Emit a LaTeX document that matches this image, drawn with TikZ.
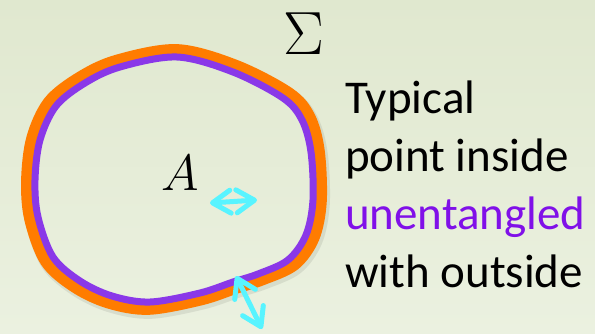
\documentclass[tikz,border=0pt]{standalone}
\usepackage{fix-cm}
\usepackage{fontspec}
\setmainfont{Carlito}
\usetikzlibrary{arrows.meta}
\definecolor{bgtop}{RGB}{224,232,207}
\definecolor{bgbot}{RGB}{235,241,224}
\definecolor{curvepurple}{RGB}{138,56,232}
\definecolor{curveorange}{RGB}{255,124,0}
\definecolor{textpurple}{RGB}{128,16,232}
\definecolor{arrowcyan}{RGB}{88,244,255}
\tikzset{
  curveline/.style={line width=#1, line join=round},
  txt/.style={anchor=base west, inner sep=0pt, font=\fontsize{47}{58}\selectfont},
  cyanarrow/.style={draw=arrowcyan, line width=5pt, line cap=round,
    {Straight Barb[length=18pt,width=23pt,round]}-{Straight Barb[length=18pt,width=23pt,round]}}
}
\begin{document}
\begin{tikzpicture}[x=1pt,y=-1pt]
\useasboundingbox (0,0) rectangle (595,333);
\shade[top color=bgtop, bottom color=bgbot] (0,0) rectangle (595,333);
\def\blob{plot[smooth cycle, tension=0.55] coordinates {(177,57) (233,72) (283,98) (302,120) (311,152) (313,200) (306,235) (288,260) (258,274) (233,282) (200,293) (150,302) (112,296) (80,281) (53,257) (38,217) (35,180) (40,140) (56,106) (85,83) (120,67)}}
% soft shadow
\begin{scope}[shift={(177,183)}, scale=1.06, shift={(-175,-180)}]
  \draw[black, opacity=0.08, curveline=13pt] \blob;
\end{scope}
% orange outer curve
\begin{scope}[shift={(175,180)}, scale=1.06, shift={(-175,-180)}]
  \draw[curveorange, curveline=11pt] \blob;
\end{scope}
% purple inner curve
\draw[curvepurple, curveline=7pt] \blob;
% labels
\node[inner sep=0pt, font=\fontsize{61}{61}\selectfont] (sigma) at (304,34) {$\Sigma$};
\node[inner sep=0pt, font=\fontsize{51}{51}\selectfont] (A) at (180,173) {$A$};
\node[txt] (l1) at (345,113) {Typical};
\node[txt] (l2) at (345,171) {point inside};
\node[txt, text=textpurple] (l3) at (345,229) {unentangled};
\node[txt] (l4) at (345,287) {with outside};
% arrows
\coordinate (a1) at (210,203);
\coordinate (a2) at (257,200);
\coordinate (b1) at (236,276);
\coordinate (b2) at (262,329);
\draw[cyanarrow] (a1) -- (a2);
\draw[cyanarrow] (b1) -- (b2);
\end{tikzpicture}
\end{document}
